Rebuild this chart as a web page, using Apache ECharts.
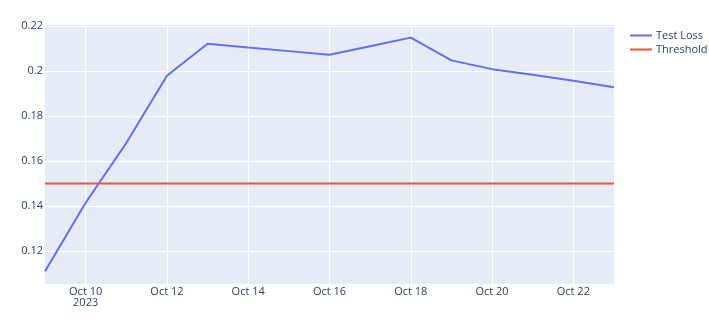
<!DOCTYPE html>
<html>
<head>
<meta charset="utf-8">
<script src="https://cdn.jsdelivr.net/npm/echarts@6/dist/echarts.min.js"></script>
<style>html,body{margin:0;padding:0;background:#fff}#c{width:709px;height:323px}</style>
</head>
<body>
<div id="c"></div>
<script>
const dates = ['2023-10-09','2023-10-10','2023-10-11','2023-10-12','2023-10-13','2023-10-14','2023-10-15','2023-10-16','2023-10-17','2023-10-18','2023-10-19','2023-10-20','2023-10-21','2023-10-22','2023-10-23'];
const testLoss = [0.1111,0.1415,0.1680,0.1979,0.2121,0.2104,0.2088,0.2072,0.2110,0.2148,0.2047,0.2008,0.1983,0.1956,0.1928];
const thresholdValue = 0.15;
const xTickDates = ['2023-10-10','2023-10-12','2023-10-14','2023-10-16','2023-10-18','2023-10-20','2023-10-22'];
const yTicks = [0.12,0.14,0.16,0.18,0.2,0.22];
const yRange = [0.1054, 0.2204];

const ts = s => Date.parse(s + 'T00:00:00Z');
const months = ['Jan','Feb','Mar','Apr','May','Jun','Jul','Aug','Sep','Oct','Nov','Dec'];
const xMin = ts(dates[0]), xMax = ts(dates[dates.length-1]);
const font = '"Open Sans", Verdana, Arial, sans-serif';

const chart = echarts.init(document.getElementById('c'), null, {renderer:'canvas'});
chart.setOption({
  animation: false,
  backgroundColor: '#fff',
  grid: {left: 45, right: 95, top: 25, bottom: 39, show: true, backgroundColor: '#E5ECF6', borderWidth: 0, containLabel: false},
  legend: {
    orient: 'vertical', left: 630, top: 29, padding: 0, itemWidth: 22, itemHeight: 2, itemGap: 1,
    icon: 'rect',
    textStyle: {fontFamily: font, fontSize: 11, lineHeight: 13, color: '#2a3f5f', padding: [0,0,0,-1]},
    data: ['Test Loss', 'Threshold']
  },
  xAxis: {
    type: 'value', min: xMin, max: xMax,
    axisLine: {show: false}, axisTick: {show: false, customValues: xTickDates.map(ts)},
    splitLine: {show: true, lineStyle: {color: '#fff', width: 1}},
    axisLabel: {
      customValues: xTickDates.map(ts), margin: 2,
      fontFamily: font, fontSize: 11, color: '#2a3f5f', lineHeight: 11.5,
      formatter: (v) => {
        const d = new Date(v);
        let s = months[d.getUTCMonth()] + ' ' + d.getUTCDate();
        if (v === ts(xTickDates[0])) s += '\n' + d.getUTCFullYear();
        return s;
      }
    }
  },
  yAxis: {
    type: 'value', min: yRange[0], max: yRange[1],
    axisLine: {show: false}, axisTick: {show: false, customValues: yTicks},
    splitLine: {show: true, lineStyle: {color: '#fff', width: 1}},
    axisLabel: {customValues: yTicks, margin: 2, fontFamily: font, fontSize: 11, color: '#2a3f5f', formatter: v => String(+v.toFixed(4))}
  },
  series: [
    {name: 'Test Loss', type: 'line', data: dates.map((d,i) => [ts(d), testLoss[i]]), showSymbol: false, symbol: 'none', lineStyle: {color: '#636efa', width: 2}, itemStyle: {color: '#636efa'}},
    {name: 'Threshold', type: 'line', data: [[xMin, thresholdValue],[xMax, thresholdValue]], showSymbol: false, symbol: 'none', lineStyle: {color: '#EF553B', width: 2}, itemStyle: {color: '#EF553B'}}
  ]
});
</script>
</body>
</html>
